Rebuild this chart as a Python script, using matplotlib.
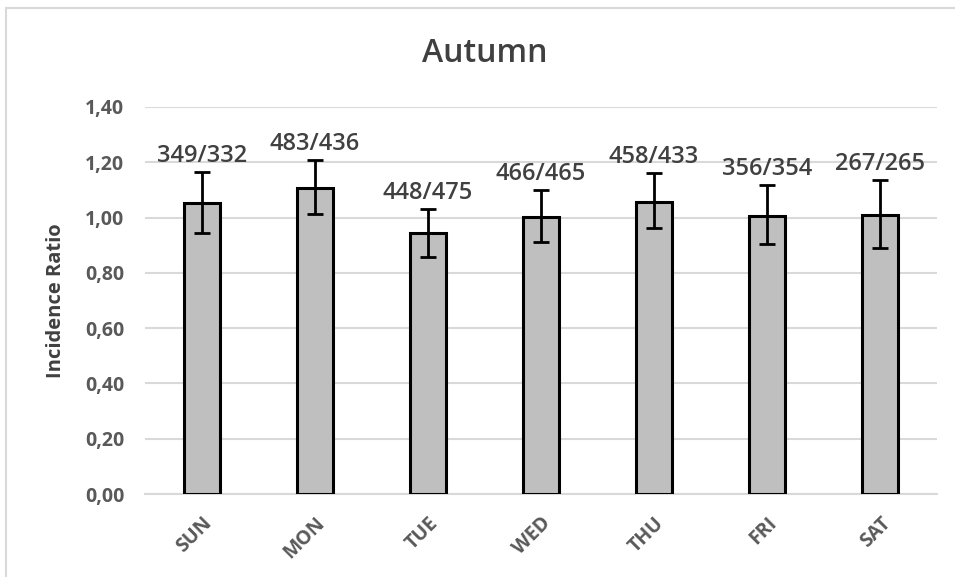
import matplotlib.pyplot as plt
from matplotlib.patches import Rectangle
from matplotlib.ticker import FuncFormatter

days = ['SUN', 'MON', 'TUE', 'WED', 'THU', 'FRI', 'SAT']
counts = ['349/332', '483/436', '448/475', '466/465', '458/433', '356/354', '267/265']
ratio = [1.051, 1.108, 0.943, 1.002, 1.058, 1.006, 1.008]
ci_low = [0.944, 1.013, 0.856, 0.912, 0.962, 0.904, 0.890]
ci_high = [1.166, 1.208, 1.032, 1.100, 1.160, 1.116, 1.136]

plt.rcParams['font.family'] = ['Open Sans', 'DejaVu Sans']

fig = plt.figure(figsize=(9.55, 5.77), dpi=100)
# chart frame (only the top and left edges fall inside the image)
fig.patches.append(Rectangle((6 / 955, -0.05), 1.1, 1 - 8 / 577 + 0.05,
                             transform=fig.transFigure, fill=False,
                             edgecolor='#d9d9d9', lw=1.5))

ax = fig.add_axes([0.152, 0.1438, 0.829, 0.6708])
x = range(len(days))
yerr = [[r - lo for r, lo in zip(ratio, ci_low)],
        [hi - r for r, hi in zip(ratio, ci_high)]]
ax.bar(x, ratio, width=0.32, color='#bfbfbf', edgecolor='black', lw=2.2, zorder=3)
ax.errorbar(x, ratio, yerr=yerr, fmt='none', ecolor='black', elinewidth=2,
            capsize=6, capthick=2, zorder=4)

for xi, hi, txt in zip(x, ci_high, counts):
    ax.annotate(txt, (xi, hi), xytext=(0, 3), textcoords='offset points',
                ha='center', va='bottom', fontsize=17, color='#404040',
                fontweight='semibold')

ax.set_xlim(-0.5, len(days) - 0.5)
ax.set_ylim(0, 1.4)
ax.set_yticks([0, 0.2, 0.4, 0.6, 0.8, 1.0, 1.2, 1.4])
ax.yaxis.set_major_formatter(FuncFormatter(lambda v, p: f'{v:.2f}'.replace('.', ',')))
ax.grid(axis='y', color='#d9d9d9', lw=1.5, zorder=0)
ax.set_axisbelow(True)
for s in ['top', 'right', 'left']:
    ax.spines[s].set_visible(False)
ax.spines['bottom'].set_color('#d9d9d9')
ax.spines['bottom'].set_linewidth(1.5)
ax.tick_params(length=0)
ax.tick_params(axis='y', labelsize=14, labelcolor='#595959', pad=15)
ax.set_xticks(list(x))
ax.set_xticklabels(days, rotation=45, fontsize=14, color='#595959',
                   fontweight='bold', ha='right', rotation_mode='anchor')
ax.tick_params(axis='x', pad=14)
for lab in ax.get_yticklabels():
    lab.set_fontweight('bold')

ax.set_ylabel('Incidence Ratio', fontsize=14.5, fontweight='bold', color='#404040', labelpad=14)
fig.text(0.508, 0.908, 'Autumn', ha='center', va='center', fontsize=23,
         color='#404040', fontweight='semibold')

fig.savefig('out.png', dpi=100)
